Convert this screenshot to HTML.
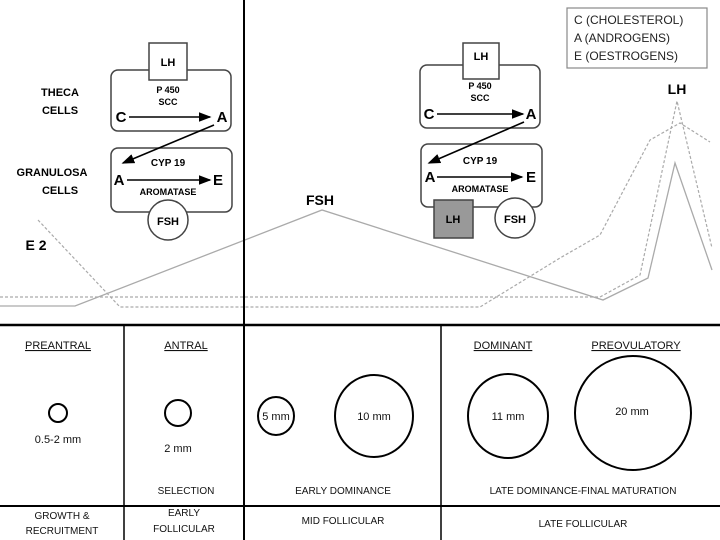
<!DOCTYPE html><html><head><style>body{margin:0;background:#fff}svg{display:block}text{font-family:"Liberation Sans",Arial,sans-serif}</style></head><body>
<svg width="720" height="540" viewBox="0 0 720 540">
<g stroke="#aaa" stroke-width="1.3" fill="none">
<polyline points="0,306 75,306 322,210 603,300 648,278 675,163 712,270"/>
</g>
<g stroke="#aaa" stroke-width="1.2" fill="none" stroke-dasharray="3,2">
<polyline points="0,297 600,297 640,275 677,101 712,248"/>
<polyline points="38,220 120,307 480,307 560,258 600,235 650,140 680,123 710,142"/>
</g>
<line x1="0" y1="325" x2="720" y2="325" stroke="#000" stroke-width="2.5"/>
<line x1="244" y1="0" x2="244" y2="540" stroke="#000" stroke-width="2"/>
<line x1="124" y1="325" x2="124" y2="540" stroke="#000" stroke-width="1.5"/>
<line x1="441" y1="325" x2="441" y2="540" stroke="#000" stroke-width="1.5"/>
<line x1="0" y1="506" x2="720" y2="506" stroke="#000" stroke-width="2"/>
<defs><marker id="a" markerWidth="8" markerHeight="8" refX="7" refY="4" orient="auto"><path d="M0,1 L8,4 L0,7z" fill="#000"/></marker></defs>
<g font-weight="bold" font-size="11" text-anchor="middle">
<text x="60" y="96">THECA</text><text x="60" y="114">CELLS</text>
<text x="52" y="176">GRANULOSA</text><text x="60" y="194">CELLS</text>
<text x="36" y="250" font-size="14">E 2</text>
<text x="320" y="205" font-size="14">FSH</text>
<text x="677" y="94" font-size="14">LH</text>
</g>
<g stroke="#444" stroke-width="1.5" fill="#fff">
<rect x="111" y="70" width="120" height="61" rx="7"/>
<rect x="111" y="148" width="121" height="64" rx="7"/>
<rect x="149" y="43" width="38" height="37"/>
<circle cx="168" cy="220" r="20"/>
</g>
<g font-weight="bold" text-anchor="middle">
<text x="168" y="66" font-size="11">LH</text>
<text x="168" y="93" font-size="9">P 450</text><text x="168" y="105" font-size="9">SCC</text>
<text x="121" y="122" font-size="15">C</text><text x="222" y="122" font-size="15">A</text>
<text x="168" y="166" font-size="10">CYP 19</text>
<text x="119" y="185" font-size="15">A</text><text x="218" y="185" font-size="15">E</text>
<text x="168" y="195" font-size="9">AROMATASE</text>
<text x="168" y="225" font-size="11">FSH</text>
</g>
<g stroke="#000" stroke-width="1.6" marker-end="url(#a)">
<line x1="129" y1="117" x2="210" y2="117"/>
<line x1="127" y1="180" x2="210" y2="180"/>
<line x1="214" y1="125" x2="123" y2="163"/>
</g>
<g stroke="#444" stroke-width="1.5" fill="#fff">
<rect x="420" y="65" width="120" height="63" rx="7"/>
<rect x="421" y="144" width="121" height="63" rx="7"/>
<rect x="463" y="43" width="36" height="36"/>
<rect x="434" y="200" width="39" height="38" fill="#999"/>
<circle cx="515" cy="218" r="20"/>
</g>
<g font-weight="bold" text-anchor="middle">
<text x="481" y="60" font-size="11">LH</text>
<text x="480" y="89" font-size="9">P 450</text><text x="480" y="101" font-size="9">SCC</text>
<text x="429" y="119" font-size="15">C</text><text x="531" y="119" font-size="15">A</text>
<text x="480" y="164" font-size="10">CYP 19</text>
<text x="430" y="182" font-size="15">A</text><text x="531" y="182" font-size="15">E</text>
<text x="480" y="192" font-size="9">AROMATASE</text>
<text x="453" y="223" font-size="11">LH</text>
<text x="515" y="223" font-size="11">FSH</text>
</g>
<g stroke="#000" stroke-width="1.6" marker-end="url(#a)">
<line x1="437" y1="114" x2="523" y2="114"/>
<line x1="437" y1="177" x2="522" y2="177"/>
<line x1="524" y1="122" x2="429" y2="163"/>
</g>
<rect x="567" y="8" width="140" height="60" fill="#fff" stroke="#888" stroke-width="1.2"/>
<g font-size="12" fill="#222"><text x="574" y="24">C (CHOLESTEROL)</text><text x="574" y="42">A (ANDROGENS)</text><text x="574" y="60">E (OESTROGENS)</text></g>
<g font-size="11" text-anchor="middle" fill="#111" text-decoration="underline">
<text x="58" y="349">PREANTRAL</text><text x="186" y="349">ANTRAL</text>
<text x="503" y="349">DOMINANT</text><text x="636" y="349">PREOVULATORY</text>
</g>
<g stroke="#000" stroke-width="2" fill="none">
<circle cx="58" cy="413" r="9"/><circle cx="178" cy="413" r="13"/>
<ellipse cx="276" cy="416" rx="18" ry="19"/><ellipse cx="374" cy="416" rx="39" ry="41"/>
<ellipse cx="508" cy="416" rx="40" ry="42"/><ellipse cx="633" cy="413" rx="58" ry="57"/>
</g>
<g font-size="11" text-anchor="middle" fill="#111">
<text x="58" y="443">0.5-2 mm</text><text x="178" y="452">2 mm</text>
<text x="276" y="420">5 mm</text><text x="374" y="420">10 mm</text>
<text x="508" y="420">11 mm</text><text x="632" y="415">20 mm</text>
<text x="186" y="494" font-size="10">SELECTION</text>
<text x="343" y="494" font-size="10">EARLY DOMINANCE</text>
<text x="583" y="494" font-size="10">LATE DOMINANCE-FINAL MATURATION</text>
<text x="62" y="519" font-size="10">GROWTH &amp;</text><text x="62" y="534" font-size="10">RECRUITMENT</text>
<text x="184" y="516" font-size="10">EARLY</text><text x="184" y="532" font-size="10">FOLLICULAR</text>
<text x="343" y="524" font-size="10">MID FOLLICULAR</text>
<text x="583" y="527" font-size="10">LATE FOLLICULAR</text>
</g>
</svg></body></html>
